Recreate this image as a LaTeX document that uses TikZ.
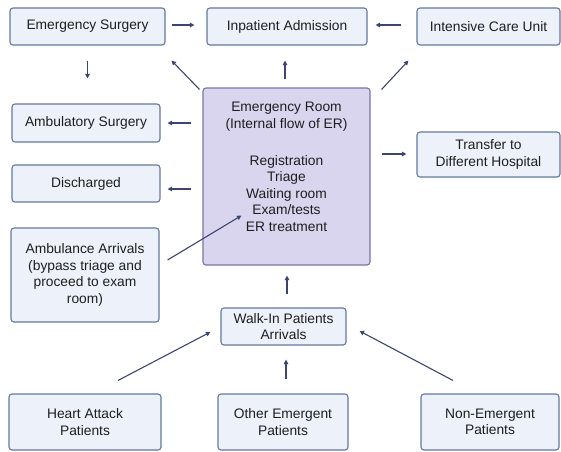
\documentclass[tikz,border=0pt]{standalone}
\usepackage{fontspec}
\setmainfont{Liberation Sans}
\usetikzlibrary{arrows.meta,calc}
\definecolor{boxfill}{HTML}{EDF2FA}
\definecolor{boxline}{HTML}{6478A0}
\definecolor{erfill}{HTML}{DAD5EF}
\definecolor{erline}{HTML}{7A74A6}
\definecolor{arrcol}{HTML}{3C4570}
\definecolor{txt}{HTML}{1E1E1E}
\begin{document}
\begin{tikzpicture}[x=1pt,y=-1pt,
  box/.style={draw=boxline,fill=boxfill,line width=1.1pt,rounded corners=3pt,
    align=center,inner sep=0pt,text=txt,font=\fontsize{13.8}{16.5}\selectfont},
  erbox/.style={draw=erline,fill=erfill,line width=1.1pt,rounded corners=3pt,inner sep=0pt},
  txtnode/.style={align=center,inner sep=0pt,text=txt,font=\fontsize{13.8}{16.5}\selectfont},
  arr/.style={draw=arrcol,line width=1.1pt,-{Triangle[length=4.5pt,width=4.5pt]}}]
\useasboundingbox[fill=white] (0,0) rectangle (561,451);

\node[box,minimum width=155pt,minimum height=37pt] (es) at (87.5,26.5) {Emergency Surgery};
\node[box,minimum width=160pt,minimum height=37pt] (ia) at (287,26.5) {Inpatient Admission};
\node[box,minimum width=143pt,minimum height=37pt] (icu) at (488.5,26.5) {Intensive Care Unit};
\node[box,minimum width=148pt,minimum height=38pt] (amb) at (86,123) {Ambulatory Surgery};
\node[box,minimum width=148pt,minimum height=37pt] (dis) at (86,183.5) {Discharged};
\node[box,minimum width=148pt,minimum height=94pt] (ambu) at (85,275) {Ambulance Arrivals\\(bypass triage and\\proceed to exam\\room)};
\node[erbox,minimum width=167pt,minimum height=177pt] (er) at (286.5,176.5) {};
\node[txtnode] (ert) at (286.5,167) {Emergency Room\\(Internal flow of ER)\\[20.5pt]Registration\\Triage\\Waiting room\\Exam/tests\\ER treatment};
\node[box,minimum width=143pt,minimum height=45pt] (tr) at (488.5,154.5) {Transfer to\\Different Hospital};
\node[box,minimum width=125pt,minimum height=37pt] (walk) at (283.5,326.5) {Walk-In Patients\\Arrivals};
\node[box,minimum width=152pt,minimum height=56pt] (ha) at (85,422) {Heart Attack\\Patients};
\node[box,minimum width=130pt,minimum height=56pt] (oe) at (283,422) {Other Emergent\\Patients};
\node[box,minimum width=138pt,minimum height=56pt] (ne) at (490,422) {Non-Emergent\\Patients};

% top row
\draw[arr] ($(es.east)+(6,-1.5)$) -- ($(ia.west)+(-12,-1.5)$);
\draw[arr] ($(icu.west)+(-15,-1.5)$) -- ($(ia.east)+(8,-1.5)$);
\draw[arr] ($(es.south)+(0,15)$) -- ($(amb.north)+(1.5,-25)$);
% from ER
\draw[arr] ($(er.north west)+(-3,2)$) -- ($(es.south east)+(6,15)$);
\draw[arr] ($(er.north)+(-1.5,-8)$) -- ($(ia.south)+(-2,15)$);
\draw[arr] ($(er.north east)+(11,2)$) -- ($(icu.south west)+(-8,15)$);
\draw[arr] ($(er.west |- amb.east)+(-11,0)$) -- ($(amb.east)+(7,0)$);
\draw[arr] ($(er.west |- dis.east)+(-11,5.5)$) -- ($(dis.east)+(7,5.5)$);
\draw[arr] ($(er.east |- tr.west)+(11,-0.5)$) -- ($(tr.west)+(-10,-0.5)$);
% into ER
\draw[arr] ($(ambu.east)+(8,-15)$) -- ($(er.south west)+(39,-50)$);
\draw[arr] ($(walk.north)+(3.5,-13)$) -- ($(er.south)+(0.5,10)$);
% into walk-in
\draw[arr] ($(ha.north)+(33,-13)$) -- ($(walk.west)+(-10,5.5)$);
\draw[arr] ($(oe.north)+(3,-14)$) -- ($(walk.south)+(2.5,14)$);
\draw[arr] ($(ne.north)+(-37,-13)$) -- ($(walk.east)+(13,4.5)$);
\end{tikzpicture}
\end{document}
